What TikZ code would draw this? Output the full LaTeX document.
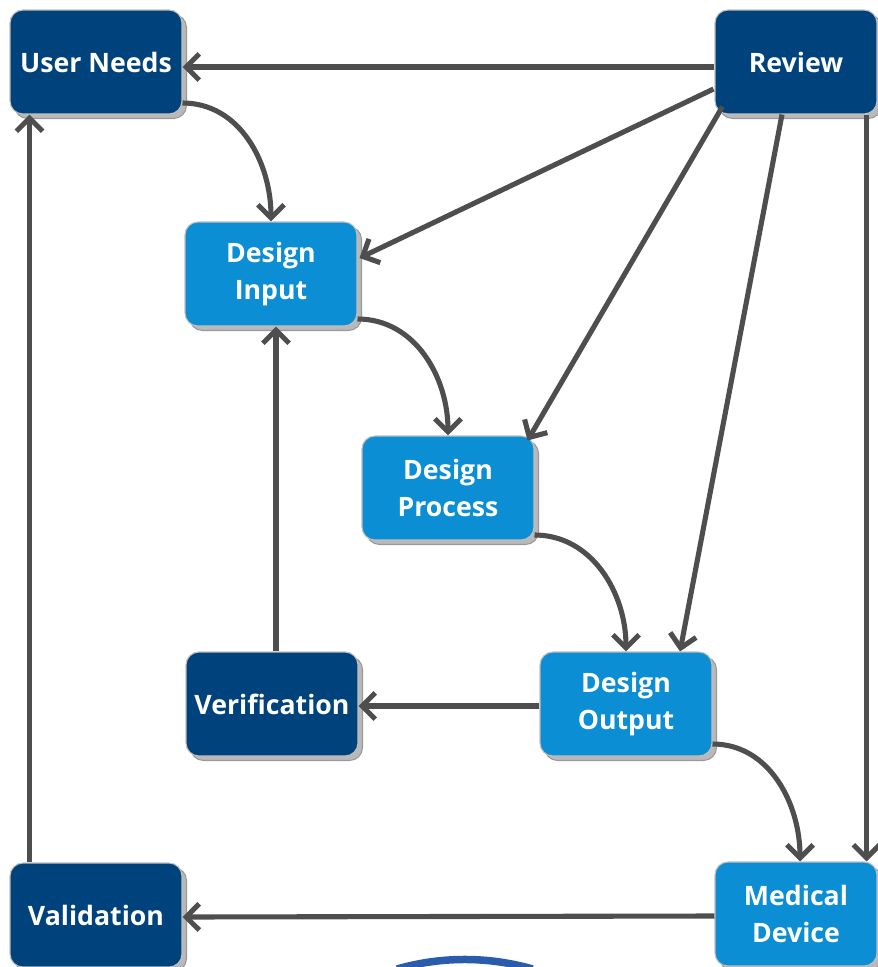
\documentclass[tikz,border=0pt]{standalone}
\usepackage{fontspec}
\setmainfont{Open Sans}
\usetikzlibrary{arrows.meta,shadows,calc}
\definecolor{dkblue}{RGB}{0,67,124}
\definecolor{ltblue}{RGB}{11,142,211}
\definecolor{arrowgrey}{RGB}{78,78,78}
\definecolor{logoblue}{RGB}{42,92,172}
\begin{document}
\begin{tikzpicture}[x=0.02cm,y=-0.02cm,
  box/.style={rounded corners=0.26cm,minimum width=3.44cm,minimum height=2.08cm,
    draw=gray!50,line width=0.6pt,text=white,align=center,
    font=\fontsize{15.2}{21.5}\selectfont\bfseries,
    general shadow={fill=gray!55,draw=gray!80,shadow xshift=0.09cm,shadow yshift=-0.09cm}},
  darkbox/.style={box,fill=dkblue},
  lightbox/.style={box,fill=ltblue},
  flow/.style={draw=arrowgrey,line width=2.9pt,-{Straight Barb[length=7.5pt,width=15pt]}}]
\useasboundingbox (0,0) rectangle (878,967);

\node[darkbox] (needs) at (96,62) {User Needs};
\node[darkbox,minimum width=3.24cm] (review) at (796,62) {Review};
\node[lightbox] (input) at (271,274) {Design\\Input};
\node[lightbox] (process) at (448,488) {Design\\Process};
\node[darkbox] (verif) at (272,704) {Verification};
\node[lightbox] (output) at (626,704) {Design\\Output};
\node[darkbox] (valid) at (96,915) {Validation};
\node[lightbox,minimum width=3.24cm] (device) at (796,914) {Medical\\Device};

% review lines
\draw[flow] ($(review.west)+(0,5)$) -- ($(needs.east)+(0,5)$);
\draw[flow] ($(review.west)+(-1,27)$) -- ($(input.east)+(2,-16)$);
\draw[flow] ($(review.south west)+(8,-8)$) -- ($(process.north east)+(-7,5)$);
\draw[flow] ($(review.south)+(-14,0)$) -- ($(output.north)+(54,0)$);
\draw[flow] ($(review.south east)+(-11,0)$) -- ($(device.north east)+(-11,0)$);

% main chain
\draw[flow] ($(needs.east)+(0,41)$) to[out=0,in=90] (input.north);
\draw[flow] ($(input.east)+(0,45)$) to[out=0,in=90] (process.north);
\draw[flow] ($(process.east)+(0,47)$) to[out=0,in=90] (output.north);
\draw[flow] ($(output.east)+(0,40)$) to[out=0,in=90] ($(device.north)+(4,0)$);

% back lines
\draw[flow] ($(output.west)+(0,2)$) -- ($(verif.east)+(0,2)$);
\draw[flow] ($(verif.north)+(4,0)$) -- ($(input.south)+(5,0)$);
\draw[flow] ($(device.west)+(0,2)$) -- ($(valid.east)+(0,2)$);
\draw[flow] ($(valid.north west)+(20,0)$) -- ($(needs.south west)+(20,0)$);

\draw[logoblue,line width=0.15cm] (397,969) arc[start angle=106,end angle=74,radius=4.92cm];
\end{tikzpicture}
\end{document}
